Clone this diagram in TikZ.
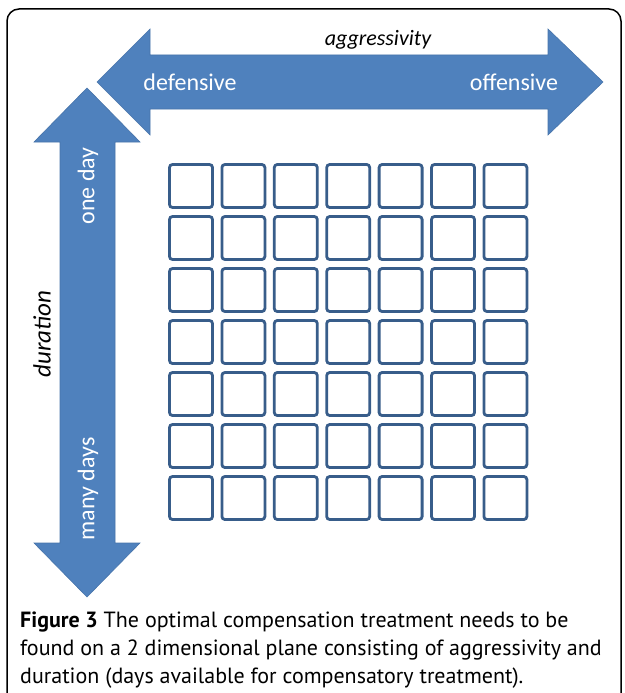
\documentclass[tikz,border=0pt]{standalone}
\usepackage{fontspec}
\setmainfont{Carlito}
\newfontfamily\captionfont{PT Sans}
\definecolor{arrowblue}{RGB}{79,129,189}
\definecolor{cellblue}{RGB}{56,93,138}
\tikzset{
  bigarrow/.style={fill=arrowblue,draw=arrowblue!90!black,line width=0.6},
  cell/.style={draw=cellblue,fill=white,line width=2.8,rounded corners=3},
  whitelabel/.style={text=white,font=\fontsize{24}{28}\selectfont},
  axislabel/.style={font=\fontsize{22}{26}\selectfont\itshape}
}
\begin{document}
\begin{tikzpicture}[x=1pt,y=-1pt]
\useasboundingbox (0,0) rectangle (624,693);

\draw[line width=1.5,rounded corners=12] (7,710) -- (7,9) -- (621,9) -- (621,710);

\draw[bigarrow] (97,82) -- (150,29) -- (150,55) -- (548,55) -- (548,29) -- (603,82)
  -- (548,135) -- (548,109) -- (150,109) -- (150,135) -- cycle;

\draw[bigarrow] (87,88) -- (140,142) -- (115,142) -- (115,543) -- (140,543) -- (87,597)
  -- (34,543) -- (60,543) -- (60,142) -- (34,142) -- cycle;

\node[axislabel] (aggr) at (378,40) {aggressivity};
\node[whitelabel] (def) at (190,82) {defensive};
\node[whitelabel] (off) at (514,82) {offensive};

\node[axislabel,rotate=90,font=\fontsize{25}{28}\selectfont\itshape] (dur) at (42,334) {duration};
\node[whitelabel,rotate=90] (one) at (88,186) {one day};
\node[whitelabel,rotate=90] (many) at (88,489) {many days};

\foreach \i in {0,...,6}
  \foreach \j in {0,...,6}
    \draw[cell] ({169.5+52.4*\i},{164.5+52*\j}) rectangle +(43,43);

\node[anchor=north west,align=left,inner sep=0,font=\captionfont\fontsize{22}{28}\selectfont] (caption) at (20,612)
  {\textbf{Figure 3} The optimal compensation treatment needs to be\\
   found on a 2 dimensional plane consisting of aggressivity and\\
   duration (days available for compensatory treatment).};
\end{tikzpicture}
\end{document}
